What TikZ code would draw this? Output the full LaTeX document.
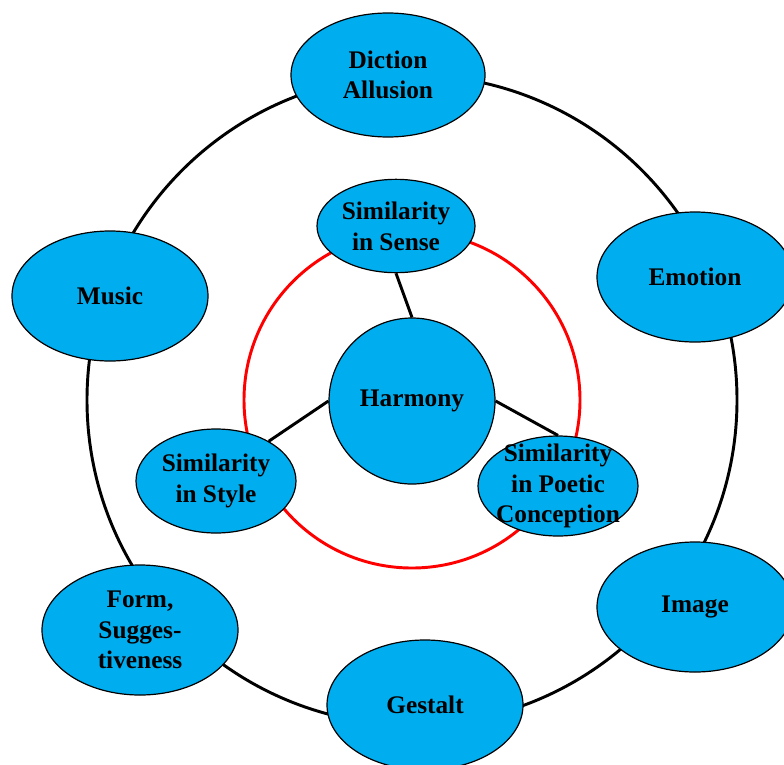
\documentclass[tikz,border=0pt]{standalone}
\usepackage{fontspec}
\setmainfont{Liberation Serif}
\usepackage{tikz}
\usepackage{xcolor}
\usetikzlibrary{shapes.geometric}
\definecolor{skyblue}{RGB}{0,174,239}

\tikzset{
  txt/.style={font=\bfseries\fontsize{19}{23}\selectfont, align=center},
  bub/.style={ellipse, draw, line width=0.9pt, fill=skyblue, inner sep=0pt, txt},
  outer/.style={bub, minimum width=147pt, minimum height=97.5pt},
  inner/.style={bub, minimum width=120pt, minimum height=75pt},
  link/.style={line width=2.2pt}
}

\begin{document}
\begin{tikzpicture}[x=0.75pt,y=0.75pt,yscale=-1,xscale=1]
\useasboundingbox (0,0) rectangle (784,764);
\clip (0,0) rectangle (784,764);

\coordinate (mid) at (412,400);
\draw[link] (mid) circle (243.75pt);
\draw[link, red] (mid) circle (126pt);

% outer ring
\node[outer, minimum width=145.5pt, minimum height=93pt] (diction) at (388,75) {Diction\\Allusion};
\node[outer] (music) at (110,296) {Music};
\node[outer] (emotion) at (695,277) {Emotion};
\node[outer] (image) at (695,607) {Image};
\node[outer] (form) at (140,630) {Form,\\Sugges-\\tiveness};
\node[outer] (gestalt) at (425,705) {Gestalt};

% inner ring
\node[bub, circle, minimum size=124.5pt] (harmony) at (412,401) {Harmony};
\node[inner, minimum width=118.5pt, minimum height=70pt] (sense) at (396,226) {Similarity\\in Sense};
\node[inner, minimum height=78pt] (style) at (216,481) {Similarity\\in Style};
\node[inner, label={[txt]center:Similarity\\in Poetic\\Conception}] (poetic) at (558,486) {};

\draw[link] (harmony.north) -- (sense.south);
\draw[link] (harmony.west) -- (style.37);
\draw[link] (harmony.east) -- (poetic.north);

\end{tikzpicture}
\end{document}
